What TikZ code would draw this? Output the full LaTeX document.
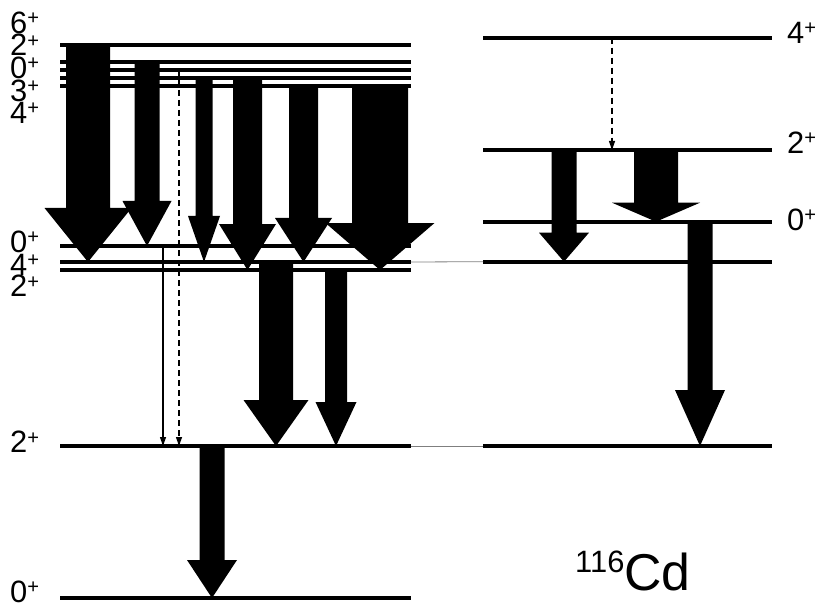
\documentclass[tikz,border=0pt]{standalone}
\usepackage{fontspec}
\setmainfont{Liberation Sans}
\usepackage{tikz}
\usetikzlibrary{calc,arrows.meta}
\definecolor{linkgray}{HTML}{7F7F7F}
\newcommand{\spinfont}{\fontsize{31}{31}\selectfont}
\newcommand{\spinp}{\raisebox{0.28em}{\scalebox{0.65}{+}}}
\tikzstyle{level} = [line width=4bp]
\tikzstyle{link} = [draw=linkgray, line width=0.8bp]
\tikzstyle{gamma} = [line width=1.2bp, -{Triangle[length=9bp,width=6bp]}]
\tikzstyle{gammadash} = [gamma, dash pattern=on 6bp off 4bp]
\tikzstyle{spin} = [anchor=west, inner sep=0pt, font=\spinfont]
\newcommand{\fatarrow}[6]{% x, from, to, shaft, head, head length
  \fill ($(#1,0 |- #2)+(-#4/2,0)$) -- ($(#1,0 |- #2)+(#4/2,0)$)
    -- ($(#1,0 |- #3)+(#4/2,-#6)$) -- ($(#1,0 |- #3)+(#5/2,-#6)$)
    -- (#1,0 |- #3) -- ($(#1,0 |- #3)+(-#5/2,-#6)$)
    -- ($(#1,0 |- #3)+(-#4/2,-#6)$) -- cycle;}

\begin{document}
\begin{tikzpicture}[x=1bp, y=-1bp]
\useasboundingbox (0,0) rectangle (820,608);

% levels
\foreach \n/\y in {a/45, b/61.7, c/70, d/78.3, e/86, f/246, g/262, h/270, i/446, j/598}
  \draw[level] (60,\y) coordinate (\n) -- (411,\y) coordinate (\n-e);
\foreach \n/\y in {p/37.7, q/150, r/221.7, s/261.7, t/446}
  \draw[level] (483,\y) coordinate (\n) -- (772,\y) coordinate (\n-e);
\draw[link] (g-e) -- (s);
\draw[link] (i-e) -- (t);

% transitions
\fatarrow{88}{a}{g}{44}{87}{54}
\fatarrow{147}{b}{f}{25}{49}{45}
\fatarrow{204}{d}{g}{17}{32}{46}
\fatarrow{247.5}{d}{h}{29}{57}{46}
\fatarrow{303.5}{e}{g}{29}{57}{44}
\fatarrow{380}{e}{h}{56}{109}{47}
\fatarrow{276}{g}{i}{34}{65}{46}
\fatarrow{336}{h}{i}{22}{41}{44}
\fatarrow{212}{i}{j}{25}{50}{38}
\fatarrow{564}{q}{s}{25}{50}{29}
\fatarrow{656}{q}{r}{44}{88}{19}
\fatarrow{700}{r}{t}{25}{50}{56}
\draw[gamma] (163,0 |- f) -- (163,0 |- i);
\draw[gammadash] (179,0 |- c) -- (179,0 |- i);
\draw[gammadash] (612,0 |- p) -- (612,0 |- q);

% spins
\node[spin] (sa) at (10,23) {6\spinp};
\node[spin] (sb) at (10,45) {2\spinp};
\node[spin] (sc) at (10,68) {0\spinp};
\node[spin] (sd) at (10,91) {3\spinp};
\node[spin] (se) at (10,113) {4\spinp};
\node[spin] (sf) at (10,242) {0\spinp};
\node[spin] (sg) at (10,265) {4\spinp};
\node[spin] (sh) at (10,286) {2\spinp};
\node[spin] (si) at (10,442) {2\spinp};
\node[spin] (sj) at (10,592) {0\spinp};
\node[spin] (sp) at (787,32.5) {4\spinp};
\node[spin] (sq) at (787,142.5) {2\spinp};
\node[spin] (sr) at (787,220) {0\spinp};

\node[anchor=base west, inner sep=0pt, font=\fontsize{52}{52}\selectfont] (nuc) at (575,590)
  {\raisebox{18bp}{\fontsize{31}{31}\selectfont 116}Cd};
\end{tikzpicture}
\end{document}
